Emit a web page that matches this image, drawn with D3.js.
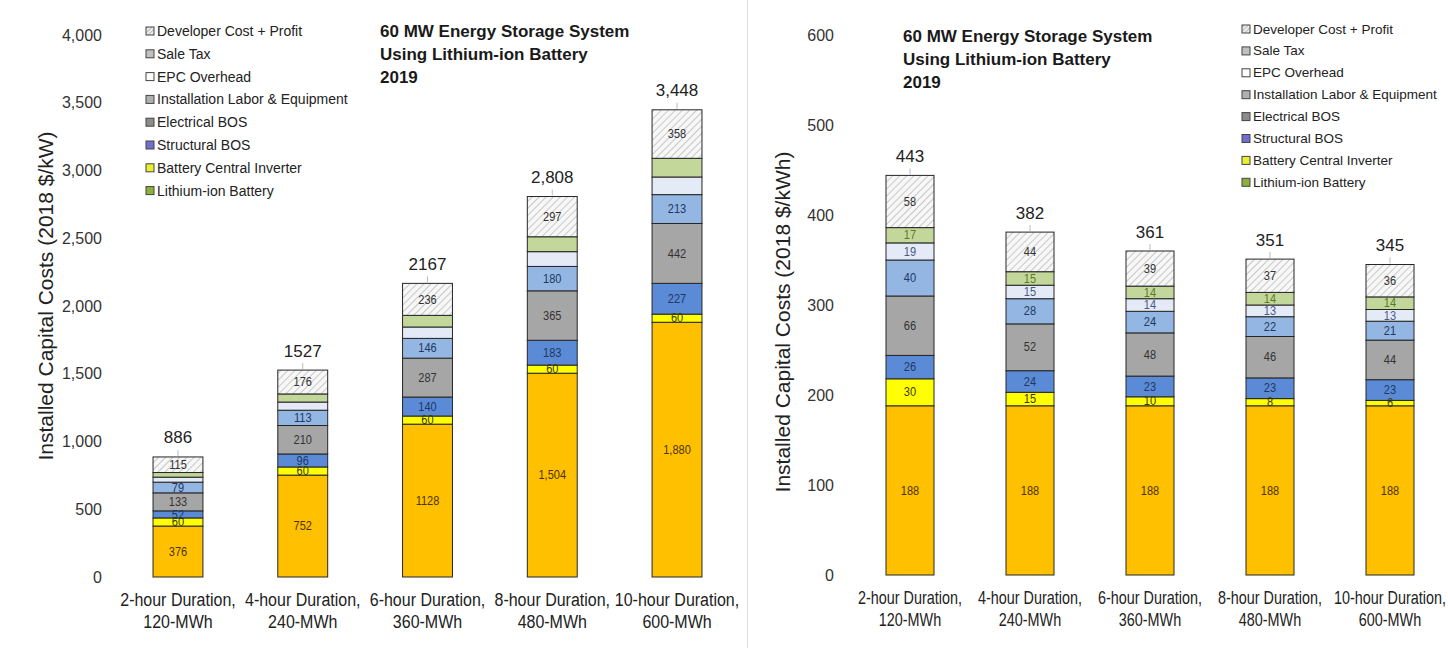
<!DOCTYPE html>
<html>
<head>
<meta charset="utf-8">
<script src="https://cdn.jsdelivr.net/npm/d3@7"></script>
<style>
  html, body { margin: 0; padding: 0; background: #fff; }
  svg { display: block; }
  text { font-family: "Liberation Sans", Arial, sans-serif; }
</style>
</head>
<body>
<svg id="chart" width="1448" height="648"></svg>
<script>
// Category labels (two lines each)
const categories = [
  ["2-hour Duration,", "120-MWh"],
  ["4-hour Duration,", "240-MWh"],
  ["6-hour Duration,", "360-MWh"],
  ["8-hour Duration,", "480-MWh"],
  ["10-hour Duration,", "600-MWh"]
];

// Cost components, bottom of stack first
const seriesNames = [
  "Lithium-ion Battery",
  "Battery Central Inverter",
  "Structural BOS",
  "Electrical BOS",
  "Installation Labor & Equipment",
  "EPC Overhead",
  "Sale Tax",
  "Developer Cost + Profit"
];

// Installed cost per kW (2018 $/kW)
const kwBattery    = [376, 752, 1128, 1504, 1880];
const kwInverter   = [60, 60, 60, 60, 60];
const kwStructural = [52, 96, 140, 183, 227];
const kwElectrical = [133, 210, 287, 365, 442];
const kwInstall    = [79, 113, 146, 180, 213];
const kwEpc        = [37, 60, 84, 109, 130];
const kwSaleTax    = [34, 60, 86, 110, 138];
const kwDeveloper  = [115, 176, 236, 297, 358];
const kwBatteryText = ["376", "752", "1128", "1,504", "1,880"];
const kwTotalText   = ["886", "1527", "2167", "2,808", "3,448"];
const kwTicks = [0, 500, 1000, 1500, 2000, 2500, 3000, 3500, 4000];

// Installed cost per kWh (2018 $/kWh)
const kwhBattery    = [188, 188, 188, 188, 188];
const kwhInverter   = [30, 15, 10, 8, 6];
const kwhStructural = [26, 24, 23, 23, 23];
const kwhElectrical = [66, 52, 48, 46, 44];
const kwhInstall    = [40, 28, 24, 22, 21];
const kwhEpc        = [19, 15, 14, 13, 13];
const kwhSaleTax    = [17, 15, 14, 14, 14];
const kwhDeveloper  = [58, 44, 39, 37, 36];
const kwhTotalText  = ["443", "382", "361", "351", "345"];
const kwhTicks = [0, 100, 200, 300, 400, 500, 600];

const titleLines = ["60 MW Energy Storage System", "Using Lithium-ion Battery", "2019"];

// Bar fills and label colours per component (bottom of stack first)
const fills = ["#FFC000", "#FFFF00", "#5B8BD6", "#A6A6A6", "#93B6E3", "#E4EAF6", "#C4D79B", "url(#hatch)"];
const labelColors = ["#4d3300", "#3a3a00", "#1f3864", "#333333", "#1f3864", "#4a5a8a", "#5a7a2a", "#333333"];
// Legend swatch colours per component (bottom of stack first)
const legendSwatch = ["#8fb03a", "#e8f030", "#6f6fd0", "#8c8c8c", "#b0b0b0", "#ffffff", "#c0c0c0", "url(#hatchSmall)"];
// Legend rows, top row first
const legendOrder = [7, 6, 5, 4, 3, 2, 1, 0];

const svg = d3.select("#chart");

const defs = svg.append("defs");
const hatch = defs.append("pattern")
  .attr("id", "hatch").attr("patternUnits", "userSpaceOnUse")
  .attr("width", 5).attr("height", 5).attr("patternTransform", "rotate(45)");
hatch.append("rect").attr("width", 5).attr("height", 5).attr("fill", "#f7f7f7");
hatch.append("line").attr("x1", 0).attr("y1", 0).attr("x2", 0).attr("y2", 5)
  .attr("stroke", "#9a9a9a").attr("stroke-width", 1);
const hatchS = defs.append("pattern")
  .attr("id", "hatchSmall").attr("patternUnits", "userSpaceOnUse")
  .attr("width", 3).attr("height", 3).attr("patternTransform", "rotate(45)");
hatchS.append("rect").attr("width", 3).attr("height", 3).attr("fill", "#eee");
hatchS.append("line").attr("x1", 0).attr("y1", 0).attr("x2", 0).attr("y2", 3)
  .attr("stroke", "#888").attr("stroke-width", 1);

// Thin divider between the two panels
svg.append("line").attr("x1", 747.5).attr("x2", 747.5).attr("y1", 0).attr("y2", 648)
  .attr("stroke", "#e2e2e2").attr("stroke-width", 1);

function drawPanel(cfg) {
  const g = svg.append("g");
  const x = d3.scaleBand().domain(d3.range(categories.length))
    .range(cfg.xRange).paddingInner(0.6).paddingOuter(0.3);
  const y = d3.scaleLinear().domain(cfg.domain).range(cfg.yRange);

  const rows = categories.map((c, i) => {
    const r = { idx: i };
    cfg.series.forEach((arr, k) => { r["s" + k] = arr[i]; });
    return r;
  });
  const keys = cfg.series.map((_, k) => "s" + k);
  const stacked = d3.stack().keys(keys)(rows);

  // Y axis (labels only)
  const yAxis = d3.axisLeft(y).tickValues(cfg.ticks).tickFormat(cfg.tickFormat).tickSize(0).tickPadding(0);
  const ag = g.append("g").attr("transform", `translate(${cfg.tickX},0)`).call(yAxis);
  ag.select(".domain").remove();
  ag.selectAll("text").attr("font-size", cfg.tickFont).attr("fill", "#333")
    .attr("font-family", '"Liberation Sans", Arial, sans-serif');

  // Y axis title
  g.append("text")
    .attr("transform", `translate(${cfg.yTitleX},${cfg.yTitleY}) rotate(-90)`)
    .attr("text-anchor", "middle").attr("dominant-baseline", "central")
    .attr("font-size", cfg.yTitleFont).attr("fill", "#222").text(cfg.yTitle);

  // Stacked bars
  stacked.forEach((layer, k) => {
    g.append("g").selectAll("rect").data(layer).join("rect")
      .attr("x", d => x(d.data.idx))
      .attr("width", x.bandwidth())
      .attr("y", d => y(d[1]))
      .attr("height", d => y(d[0]) - y(d[1]))
      .attr("fill", fills[k])
      .attr("stroke", "#262626").attr("stroke-width", 1);
  });

  // Segment value labels
  stacked.forEach((layer, k) => {
    if (!cfg.labeled[k]) return;
    g.append("g").selectAll("text").data(layer).join("text")
      .attr("transform", d => `translate(${x(d.data.idx) + x.bandwidth() / 2},${(y(d[0]) + y(d[1])) / 2}) scale(0.92,1)`)
      .attr("text-anchor", "middle").attr("dominant-baseline", "central")
      .attr("font-size", 12).attr("fill", labelColors[k])
      .text((d, i) => cfg.labelText(k, i, d[1] - d[0]));
  });

  // Totals above each bar
  const top = stacked[stacked.length - 1];
  g.append("g").selectAll("line").data(top).join("line")
    .attr("x1", d => x(d.data.idx) + x.bandwidth() / 2)
    .attr("x2", d => x(d.data.idx) + x.bandwidth() / 2)
    .attr("y1", d => y(d[1]) - 1).attr("y2", d => y(d[1]) - 7)
    .attr("stroke", "#bbb").attr("stroke-width", 1);
  g.append("g").selectAll("text").data(top).join("text")
    .attr("x", d => x(d.data.idx) + x.bandwidth() / 2)
    .attr("y", d => y(d[1]) - 19)
    .attr("text-anchor", "middle").attr("dominant-baseline", "central")
    .attr("font-size", 17).attr("fill", "#222")
    .text((d, i) => cfg.totalText[i]);

  // Category labels
  const cg = g.append("g");
  categories.forEach((lines, i) => {
    lines.forEach((line, j) => {
      cg.append("text")
        .attr("transform", `translate(${x(i) + x.bandwidth() / 2},${cfg.catY + j * 22}) scale(${cfg.catScale},1.1)`)
        .attr("text-anchor", "middle").attr("dominant-baseline", "central")
        .attr("font-size", 16).attr("fill", "#222")
        .text(line);
    });
  });

  // Title
  titleLines.forEach((t, j) => {
    g.append("text").attr("x", cfg.titleX).attr("y", cfg.titleY + j * 23)
      .attr("dominant-baseline", "central")
      .attr("font-size", 17).attr("font-weight", "bold").attr("fill", "#1a1a1a").text(t);
  });

  // Legend
  const lg = g.append("g");
  legendOrder.forEach((k, j) => {
    const ly = cfg.legendY + j * cfg.legendStep;
    lg.append("rect").attr("x", cfg.legendX).attr("y", ly - 4).attr("width", 8).attr("height", 8)
      .attr("fill", legendSwatch[k]).attr("stroke", "#444").attr("stroke-width", 1);
    lg.append("text").attr("x", cfg.legendX + 11).attr("y", ly)
      .attr("dominant-baseline", "central")
      .attr("font-size", cfg.legendFont).attr("fill", "#222").text(seriesNames[k]);
  });
}

drawPanel({
  series: [kwBattery, kwInverter, kwStructural, kwElectrical, kwInstall, kwEpc, kwSaleTax, kwDeveloper],
  labeled: [true, true, true, true, true, false, false, true],
  labelText: (k, i, v) => k === 0 ? kwBatteryText[i] : String(v),
  totalText: kwTotalText,
  ticks: kwTicks, tickFormat: d3.format(","), tickFont: 16,
  domain: [0, 4000], yRange: [577, 35], xRange: [115.6, 739.4],
  tickX: 102, yTitleX: 45, yTitleY: 296, yTitleFont: 21,
  yTitle: "Installed Capital Costs (2018 $/kW)",
  catY: 600, catScale: 1.0, titleX: 380, titleY: 31,
  legendX: 146, legendY: 31, legendStep: 22.8, legendFont: 14
});

drawPanel({
  series: [kwhBattery, kwhInverter, kwhStructural, kwhElectrical, kwhInstall, kwhEpc, kwhSaleTax, kwhDeveloper],
  labeled: [true, true, true, true, true, true, true, true],
  labelText: (k, i, v) => String(v),
  totalText: kwhTotalText,
  ticks: kwhTicks, tickFormat: d3.format("d"), tickFont: 16,
  domain: [0, 600], yRange: [575, 35], xRange: [850, 1450],
  tickX: 834, yTitleX: 782, yTitleY: 322, yTitleFont: 21,
  yTitle: "Installed Capital Costs (2018 $/kWh)",
  catY: 597, catScale: 0.9, titleX: 903, titleY: 36,
  legendX: 1242, legendY: 29, legendStep: 21.9, legendFont: 13.5
});
</script>
</body>
</html>
